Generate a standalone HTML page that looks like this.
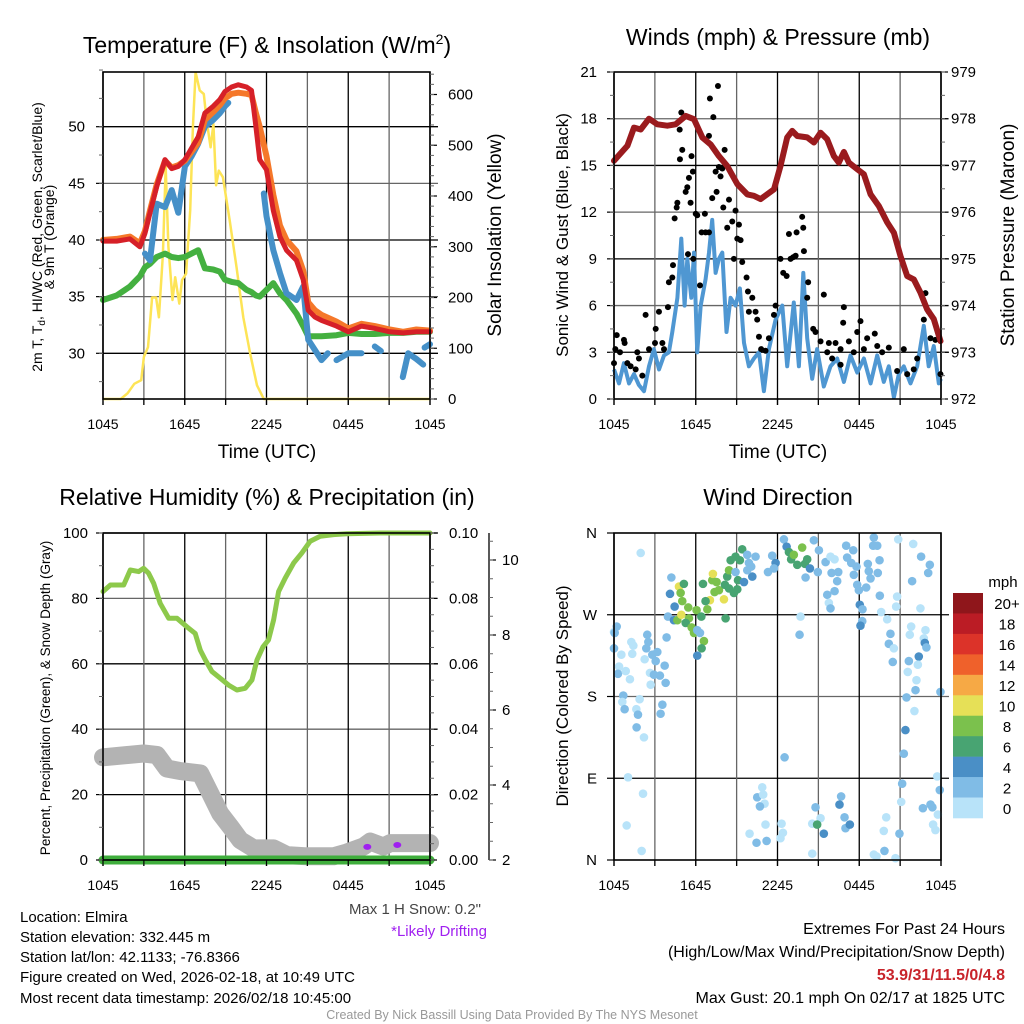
<!DOCTYPE html>
<html><head><meta charset="utf-8"><style>
html,body{margin:0;padding:0;background:#fff;}
svg{display:block;font-family:"Liberation Sans",Arial,sans-serif;}
</style></head><body>
<svg id="fig" width="1024" height="1024" viewBox="0 0 1024 1024" xmlns="http://www.w3.org/2000/svg">
<rect width="1024" height="1024" fill="#fff"/>
<g id="p1"></g>
<g id="p2"></g>
<g id="p3"></g>
<g id="p4"></g>
<g id="txt">
<text x="267" y="53" font-size="23" text-anchor="middle">Temperature (F) &amp; Insolation (W/m<tspan font-size="14" dy="-9">2</tspan><tspan dy="9">)</tspan></text>
<text x="778" y="45" font-size="23" text-anchor="middle">Winds (mph) &amp; Pressure (mb)</text>
<text x="267" y="505" font-size="23" text-anchor="middle">Relative Humidity (%) &amp; Precipitation (in)</text>
<text x="778" y="505" font-size="23" text-anchor="middle">Wind Direction</text>
<text x="267" y="458" font-size="19" text-anchor="middle">Time (UTC)</text>
<text x="778" y="458" font-size="19" text-anchor="middle">Time (UTC)</text>
<text transform="translate(42,237) rotate(-90)" font-size="14" text-anchor="middle">2m T, T<tspan font-size="10" dy="3">d</tspan><tspan dy="-3">, HI/WC (Red, Green, Scarlet/Blue)</tspan></text>
<text transform="translate(54,237) rotate(-90)" font-size="14" text-anchor="middle">&amp; 9m T (Orange)</text>
<text transform="translate(501,235) rotate(-90)" font-size="19" text-anchor="middle">Solar Insolation (Yellow)</text>
<text transform="translate(568,235) rotate(-90)" font-size="17" text-anchor="middle">Sonic Wind &amp; Gust (Blue, Black)</text>
<text transform="translate(1014,235) rotate(-90)" font-size="19" text-anchor="middle">Station Pressure (Maroon)</text>
<text transform="translate(50,698) rotate(-90)" font-size="13.5" text-anchor="middle">Percent, Precipitation (Green), &amp; Snow Depth (Gray)</text>
<text transform="translate(568,696) rotate(-90)" font-size="17" text-anchor="middle">Direction (Colored By Speed)</text>
<text x="481" y="914" font-size="15" fill="#444" text-anchor="end">Max 1 H Snow: 0.2"</text>
<text x="487" y="936" font-size="15" fill="#a020f0" text-anchor="end">*Likely Drifting</text>
<text x="20" y="922" font-size="15">Location: Elmira</text>
<text x="20" y="942" font-size="15">Station elevation: 332.445 m</text>
<text x="20" y="962" font-size="15">Station lat/lon: 42.1133; -76.8366</text>
<text x="20" y="982" font-size="15">Figure created on Wed, 2026-02-18, at 10:49 UTC</text>
<text x="20" y="1003" font-size="15">Most recent data timestamp: 2026/02/18 10:45:00</text>
<text x="1005" y="934" font-size="16" text-anchor="end">Extremes For Past 24 Hours</text>
<text x="1005" y="957" font-size="16" text-anchor="end">(High/Low/Max Wind/Precipitation/Snow Depth)</text>
<text x="1005" y="980" font-size="16" font-weight="bold" fill="#c8242b" text-anchor="end">53.9/31/11.5/0/4.8</text>
<text x="1005" y="1003" font-size="16" text-anchor="end">Max Gust: 20.1 mph On 02/17 at 1825 UTC</text>
<text x="512" y="1019" font-size="12.5" fill="#999" text-anchor="middle">Created By Nick Bassill Using Data Provided By The NYS Mesonet</text>
<text x="1003" y="587" font-size="15" text-anchor="middle">mph</text>
</g>
</svg>
<script>
// ---------- data (time in hours since 1045 UTC) ----------
const xTickLabels = ["1045","1645","2245","0445","1045"];
// Panel 1
const tT  = [0,1,1.98,2.71,3.08,3.45,3.94,4.55,5.04,5.53,6.01,6.5,6.99,7.48,8.09,8.58,8.95,9.44,9.93,10.54,10.9,11.22,11.5,12.0,12.5,12.98,13.47,14.2,14.69,15.06,15.55,16.04,17.14,18.0,18.97,19.95,21.05,22.03,23.0,24];
const temp2m = [39.9,39.9,40.1,39.4,40.6,42.4,44.7,47.1,46.3,46.5,47.1,48.1,49.1,51.2,51.8,52.4,53.1,53.5,53.7,53.5,53.2,50,47.1,46.2,42.6,40.3,39.1,38.2,36.5,33.8,33.2,32.9,32.4,31.9,32.4,32.2,31.9,31.8,31.9,31.9];
const temp9m = [40.0,40.1,40.3,39.7,40.8,42.6,44.9,47.0,46.4,46.6,47.0,47.8,48.6,50.6,51.3,51.9,52.5,52.9,53.0,52.9,52.8,51.2,50.0,47.4,44.0,41.3,40.0,39.0,37.3,34.5,33.8,33.4,32.8,32.2,32.6,32.4,32.1,31.9,32.1,32.0];
const dewp = [34.7,35.1,35.9,36.8,37.6,37.9,38.5,38.8,38.5,38.4,38.5,38.8,39.1,37.5,37.4,37.2,36.5,36.3,36.2,35.6,35.4,35.1,35.0,35.6,36.2,35.3,34.7,33.5,32.4,31.5,31.5,31.5,31.6,31.8,31.7,31.7,31.8,31.8,31.9,31.9];
const tWC = [3.08,3.45,3.94,4.55,5.04,5.53,6.01,6.5,6.99,7.48,8.09,8.58,8.95,9.2,null,11.8,12.0,12.5,12.98,13.47,14.2,14.69,15.06,16.04,16.5,null,17.14,18.0,18.97,null,19.95,20.4,null,22.0,22.4,23.0,23.5,null,23.6,24];
const windChill = [38.8,38.2,43.2,42.9,44.4,42.4,46.5,47.4,48.5,50,50.6,51.2,51.8,52.1,null,44.1,42.1,39.1,37.1,35.3,34.7,35.9,31.2,29.4,30.0,null,29.4,30,30,null,30.6,30.2,null,27.9,30.0,29.5,29.0,null,30.5,30.8];
const tSolar = [0,1.3,1.8,2.3,2.8,3.0,3.3,3.6,3.9,4.1,4.4,4.6,4.8,5.1,5.3,5.6,5.8,6.1,6.4,6.6,6.8,7.1,7.4,7.6,7.9,8.1,8.3,8.5,8.8,9.3,9.8,10.3,10.8,11.3,11.8,24];
const solar = [0,0,11,30,37,83,102,200,200,161,285,457,300,195,240,188,234,247,372,536,644,608,601,549,496,542,421,450,437,352,260,161,89,27,0,0];
// Panel 2
const tP = [0,0.98,1.47,1.96,2.57,3.18,3.91,4.52,5.26,5.87,6.48,7.09,7.7,8.31,9.05,9.78,10.27,10.76,11.74,12.22,12.71,13.08,13.45,14.18,14.67,15.16,15.65,16.14,16.5,16.87,17.24,17.85,18.34,18.83,19.44,20.05,20.54,21.03,21.52,22.0,22.49,22.98,23.47,23.96];
const pressure = [977.1,977.42,977.81,977.77,978.0,977.88,977.85,977.88,978.06,977.99,977.6,977.45,977.2,976.99,976.6,976.38,976.35,976.28,976.49,976.99,977.6,977.74,977.63,977.6,977.49,977.7,977.56,977.2,977.06,977.29,977.06,976.92,976.81,976.38,976.13,975.78,975.56,975.06,974.63,974.56,974.28,973.92,973.71,973.24];
const tWind = [0,0.37,0.73,1.1,1.47,1.83,2.2,2.57,2.93,3.3,3.67,4.03,4.28,4.65,4.94,5.18,5.38,5.67,5.87,6.11,6.36,6.72,6.97,7.21,7.46,7.7,7.95,8.26,8.56,8.92,9.24,9.54,9.9,10.27,10.64,11.0,11.37,11.86,12.35,12.71,13.2,13.57,13.89,14.18,14.55,14.91,15.4,15.89,16.38,16.87,17.36,17.85,18.34,18.83,19.32,19.8,20.17,20.54,20.9,21.27,21.76,22.25,22.74,23.1,23.47,23.84,24];
const sonic = [1.9,1.0,2.3,1.0,1.6,0.9,0.5,2.1,3.2,1.9,2.8,3.0,4.3,6.5,10.3,6.0,9.0,6.5,9.4,3.0,6.0,7.7,9.4,11.5,8.1,9.0,9.4,4.3,6.5,6.0,7.1,3.6,2.1,2.6,3.0,0.5,3.2,5.1,6.0,2.1,6.2,2.1,8.1,3.9,1.3,3.2,0.8,2.1,2.6,1.1,2.8,1.7,2.6,1.0,2.8,1.1,2.1,0.1,1.6,2.1,1.0,2.1,4.7,2.1,3.4,1.0,1.3];
const tGust = [0,0.2,0.1,0.44,0.78,0.73,1.22,0.98,1.71,1.83,1.59,2.08,2.32,2.57,3.06,3.01,3.3,3.55,3.67,3.96,4.03,4.28,4.33,4.45,4.6,4.65,4.84,5.01,4.94,4.82,5.69,5.5,5.79,5.62,5.38,5.26,6.0,6.11,5.43,5.82,6.31,6.43,6.67,6.97,6.72,6.97,7.04,7.29,7.63,7.46,7.21,7.53,7.82,7.95,8.12,7.7,8.02,8.31,8.44,8.68,9.05,8.92,9.29,9.17,8.8,9.41,9.73,9.83,10.15,9.9,10.39,10.51,10.64,10.8,11.12,11.37,11.86,11.74,12.22,12.42,12.67,12.84,12.96,13.15,13.33,13.4,13.89,13.81,13.94,14.25,14.18,14.62,14.79,15.4,15.16,15.65,16.01,16.26,16.63,16.87,16.82,17.24,17.6,17.85,18.09,18.34,18.58,19.14,19.32,19.68,20.17,20.78,21.27,21.52,22.25,22.74,22.86,23.1,23.23,23.59,23.96,15.77,16.63,22.0];
const gust = [2.3,4.1,3.2,3.0,3.6,3.8,2.1,2.3,3.0,2.6,1.9,1.5,5.4,3.2,4.5,3.6,5.6,3.6,3.2,5.9,7.5,7.8,8.6,11.6,12.3,12.6,15.4,16.0,18.4,17.3,15.6,14.2,14.6,12.6,13.6,13.3,11.9,11.8,9.3,9.0,7.3,10.7,11.9,10.7,10.7,16.9,19.3,18.1,20.1,14.6,12.9,13.3,14.3,14.8,16.0,14.9,12.3,11.0,12.8,11.4,10.3,12.1,10.2,11.2,9.0,8.8,7.8,6.9,6.5,5.6,5.6,5.1,4.0,3.2,3.1,3.9,6.0,5.4,9.0,8.1,7.9,10.6,9.0,9.1,9.2,10.7,11.0,11.7,9.5,7.5,6.5,4.5,4.3,6.7,3.7,3.0,2.6,3.6,3.2,5.9,4.9,3.7,3.0,4.3,5.0,3.2,3.9,4.2,3.4,3.0,3.3,1.8,3.2,1.6,2.6,5.1,6.8,5.6,3.9,3.8,1.6,3.6,2.2,1.9];
// Panel 3
const tRH = [0,0.54,1.52,2.0,2.62,2.98,3.35,3.72,4.2,4.82,5.43,6.16,6.77,7.14,7.51,8.0,8.6,9.22,9.83,10.44,10.93,11.3,11.74,12.15,12.52,12.89,13.37,13.99,14.6,15.21,15.94,16.92,17.9,20.34,24];
const rh = [82.1,84.1,84.1,88.7,88.2,89.2,87.7,84.6,78.5,73.9,73.9,71.3,69.3,64.2,61.2,57.6,55.6,53.5,52.0,52.5,55.0,61.2,65.2,67.3,73.4,82.1,86.2,90.8,93.9,97.5,99.0,99.5,99.8,100,100];
const tSnow = [0,2.98,3.96,4.69,5.67,7.14,7.87,8.6,9.34,10.07,11.05,12.52,13.5,14.96,16.92,17.9,19.12,19.61,20.59,21.08,24];
const snowDepth = [4.74,4.84,4.8,4.44,4.37,4.31,3.78,3.24,2.89,2.53,2.31,2.31,2.13,2.1,2.1,2.2,2.36,2.49,2.36,2.45,2.45];
const tPrecip = [0,24];
const precip = [0,0];
const tDrift = [19.4,21.6];
const driftDepth = [2.35,2.4];
// Panel 4
const tDir = [1.96,0,0.2,0.05,0,0.54,0.37,0.29,0.86,1.17,0.68,0.61,0.78,1.27,1.42,1.34,1.88,1.64,1.76,1.66,2.2,2.44,2.52,2.37,2.25,2.81,3.18,3.06,2.64,2.93,2.69,3.37,3.72,3.79,3.86,3.55,3.42,1.03,2.13,0.93,2.03,4.21,4.11,4.45,4.77,4.89,5.13,5.01,5.45,3.96,4.4,4.65,4.94,5.5,5.26,5.7,5.87,6.11,6.31,6.06,6.41,6.6,6.43,6.11,6.53,7.21,7.26,7.04,6.72,6.85,7.38,7.7,7.53,8.07,8.14,8.31,8.44,8.56,8.19,8.44,8.8,9.05,9.1,8.92,9.24,9.41,8.92,9.78,9.9,10.07,10.15,9.54,10.39,9.78,11.61,11.86,11.74,11.3,12.47,12.67,12.84,13.0,13.2,13.45,13.81,14.18,14.01,14.38,14.67,15.04,14.96,14.06,15.53,15.89,16.19,15.97,16.46,16.38,15.65,16.19,15.77,15.89,13.69,13.62,17.04,17.56,17.11,17.41,17.8,17.6,17.85,17.97,18.04,18.24,18.22,18.09,18.51,19.07,19.02,19.32,18.63,18.7,18.83,19.36,19.49,19.51,19.61,20.05,20.29,20.17,20.54,20.46,20.86,21.96,22.54,23.18,23.06,21.88,20.78,20.71,22.49,21.81,21.71,22.86,22.74,22.81,22.93,22.37,21.64,21.56,22.3,22.2,22.13,21.47,22.05,21.39,21.27,23.96,21.15,21.08,23.72,23.91,23.23,23.37,22.67,23.77,23.42,23.59,19.98,19.8,20.95,19.85,20.66,19.07,19.27,10.88,10.51,10.95,11.05,10.71,11.12,9.95,10.46,11.2,12.22,12.4,12.3,12.52,14.55,14.79,15.16,14.91,15.4,14.55,16.67,16.55,16.92,16.99,17.31];
const dirDeg = [338,251,257,250,233,226,213,205,208,199,181,174,166,240,236,227,177,166,160,146,135,248,240,233,221,226,229,219,206,204,193,203,214,195,245,171,161,91,73,38,10,311,293,279,301,294,304,285,278,268,264,264,270,266,261,256,250,253,250,275,268,241,233,225,304,308,315,286,285,276,295,297,306,287,303,312,319,330,266,299,294,298,308,317,330,342,334,336,327,323,312,306,334,319,335,327,321,317,353,345,339,331,336,325,344,331,326,321,352,341,317,311,328,334,331,316,317,307,292,296,283,277,268,248,346,341,333,327,323,314,303,297,281,276,263,258,300,355,346,346,326,318,310,316,330,291,273,265,249,238,233,218,353,348,334,325,316,307,290,279,277,257,248,253,244,239,234,224,219,207,215,198,187,179,164,143,117,185,84,64,92,77,61,58,57,50,39,33,47,32,29,10,2,6,4,80,69,72,62,59,39,29,19,21,24,30,40,113,40,58,46,39,29,7,70,61,47,35,39];
const dirSpeed = [1,1,3,3,3,1,1,3,1,1,3,1,3,1,1,1,1,1,3,3,1,3,3,3,1,3,3,3,1,3,1,3,3,3,3,3,3,1,1,1,1,3,5,5,11,9,7,9,9,3,5,9,11,9,7,9,9,3,3,9,7,9,7,5,7,9,11,11,7,9,9,9,9,11,7,7,9,7,7,7,7,7,7,3,7,7,7,3,3,3,5,5,3,3,3,5,3,3,3,5,7,7,9,7,9,7,7,5,3,3,3,3,3,1,1,3,3,3,3,3,1,3,1,3,3,3,3,3,3,3,3,3,5,3,3,5,3,3,3,3,3,3,3,3,3,3,1,1,3,3,1,3,1,1,3,3,3,3,1,1,1,1,1,1,1,5,3,5,3,1,1,1,3,3,1,5,3,3,3,1,1,3,3,3,3,1,1,1,1,1,3,3,1,1,1,1,3,1,1,3,1,1,3,3,1,1,1,3,1,3,1,7,5,1,3,5,3,3,5,3,3,3,3,5,5,1];
const cbLabels = ["20+","18","16","14","12","10","8","6","4","2","0"];
const cbColors = ["#8f161b","#bb1c25","#dc3329","#ef612b","#f6a945","#e6e057","#7bc14d","#48a472","#4a8fc6","#80bce6","#b8e3f9"];

// ---------- helpers ----------
const NS="http://www.w3.org/2000/svg";
function mk(parent,tag,attrs){const e=document.createElementNS(NS,tag);for(const k in attrs)e.setAttribute(k,attrs[k]);parent.appendChild(e);return e;}
function lin(d0,d1,r0,r1){return v=>r0+(v-d0)/(d1-d0)*(r1-r0);}
function pathD(xs,ys,fx,fy){let d="",pen=false;for(let i=0;i<xs.length;i++){if(ys[i]===null||xs[i]===null){pen=false;continue;}d+=(pen?"L":"M")+fx(xs[i]).toFixed(1)+","+fy(ys[i]).toFixed(1);pen=true;}return d;}
function speedColor(s){const i=Math.min(10,Math.floor(s/2));return cbColors[10-i];}

function frame(g,L,R,T,B,hLines,vLines,name){
  const grid=mk(g,"g",{});
  
  
  hLines.forEach((y,i)=>{mk(grid,"line",{x1:L,x2:R+8,y1:y,y2:y,stroke:(i%2?"#666":"#000"),"stroke-width":1.3});});
  vLines.forEach((x,i)=>{mk(grid,"line",{x1:x,x2:x,y1:T,y2:B+6,stroke:(i%2?"#666":"#000"),"stroke-width":1.3});});
}
function border(g,L,R,T,B,name){
  const r=mk(g,"rect",{x:L,y:T,width:R-L,height:B-T,fill:"none",stroke:"#000","stroke-width":1.6});
  
  
}
function yTicks(g,x,vals,fy,side,labels,lx,minorVals,name){
  vals.forEach((v,i)=>{
    const y=fy(v);
    mk(g,"line",{x1:x,x2:x+(side<0?-7:7),y1:y,y2:y,stroke:"#000","stroke-width":1.2});
    const t=mk(g,"text",{x:lx,y:y+5,"font-size":15,"text-anchor":side<0?"end":"start"});
    
    
    t.textContent=labels[i];
  });
  (minorVals||[]).forEach(v=>{const y=fy(v);mk(g,"line",{x1:x,x2:x+(side<0?-4:4),y1:y,y2:y,stroke:"#666","stroke-width":1});});
}
function xTicks(g,fx,B,name){
  for(let h=0;h<=24;h+=3){mk(g,"line",{x1:fx(h),x2:fx(h),y1:B,y2:B+6,stroke:"#000","stroke-width":1.2});}
  xTickLabels.forEach((s,i)=>{const t=mk(g,"text",{x:fx(i*6),y:B+30,"font-size":14,"text-anchor":"middle"});
    
    
    t.textContent=s;});
}
function range(a,b,s){const r=[];for(let v=a;v<=b+1e-9;v+=s)r.push(+v.toFixed(4));return r;}

// ---------- Panel 1 ----------
(function(){
  const g=document.getElementById("p1");const L=103,R=430,T=72,B=399;
  const fx=lin(0,24,L,R), fy=lin(30,50,353.3,126.7), fs=lin(0,600,399,94.5);
  frame(g,L,R,T,B,[30,35,40,45,50].map(fy),range(0,24,3).map(fx),"temp");
  const sol=mk(g,"path",{d:pathD(tSolar,solar,fx,fs),fill:"none",stroke:"#fde456","stroke-width":2.5,"stroke-linejoin":"round"});
  
  
  const dp=mk(g,"path",{d:pathD(tT,dewp,fx,fy),fill:"none",stroke:"#44b040","stroke-width":6,"stroke-linejoin":"round","stroke-linecap":"round"});
  
  
  const wc=mk(g,"path",{d:pathD(tWC,windChill,fx,fy),fill:"none",stroke:"#4590c8","stroke-width":6,"stroke-linejoin":"round","stroke-linecap":"round"});
  
  
  const t9=mk(g,"path",{d:pathD(tT,temp9m,fx,fy),fill:"none",stroke:"#f5782a","stroke-width":6,"stroke-linejoin":"round","stroke-linecap":"round"});
  
  
  const t2=mk(g,"path",{d:pathD(tT,temp2m,fx,fy),fill:"none",stroke:"#d62028","stroke-width":5,"stroke-linejoin":"round","stroke-linecap":"round"});
  
  
  mk(g,"rect",{x:L,y:T-30,width:R-L,height:30,fill:"#fff"});
  border(g,L,R,T,B,"temp");
  yTicks(g,L,[30,35,40,45,50],fy,-1,["30","35","40","45","50"],85,range(27.5,55,2.5),"temp-left");
  yTicks(g,R,[0,100,200,300,400,500,600],fs,1,["0","100","200","300","400","500","600"],448,range(0,640,20),"solar-right");
  xTicks(g,fx,B,"temp");
})();

// ---------- Panel 2 ----------
(function(){
  const g=document.getElementById("p2");const L=614,R=941,T=72,B=399;
  const fx=lin(0,24,L,R), fy=lin(0,21,B,T), fp=lin(972,979,B,T);
  frame(g,L,R,T,B,range(3,18,3).map(fy),range(0,24,3).map(fx),"wind");
  const sw=mk(g,"path",{d:pathD(tWind,sonic,fx,fy),fill:"none",stroke:"#4f97d2","stroke-width":4,"stroke-linejoin":"round"});
  
  
  const gg=mk(g,"g",{});
  
  
  tGust.forEach((t,i)=>{const c=mk(gg,"circle",{cx:fx(t),cy:fy(gust[i]),r:3,fill:"#000"});
    
    });
  const pr=mk(g,"path",{d:pathD(tP,pressure,fx,fp),fill:"none",stroke:"#9a1b1e","stroke-width":6,"stroke-linejoin":"round","stroke-linecap":"round"});
  
  
  border(g,L,R,T,B,"wind");
  yTicks(g,L,range(0,21,3),fy,-1,range(0,21,3).map(String),597,range(0,21,1.5),"wind-left");
  yTicks(g,R,range(972,979,1),fp,1,range(972,979,1).map(String),951,range(972,979,0.5),"pressure-right");
  xTicks(g,fx,B,"wind");
})();

// ---------- Panel 3 ----------
(function(){
  const g=document.getElementById("p3");const L=103,R=430,T=533,B=860;
  const fx=lin(0,24,L,R), fy=lin(0,100,B,T), fsn=lin(2,10,B,560);
  frame(g,L,R,T,B,range(20,100,20).map(fy),range(0,24,3).map(fx),"rh");
  const sn=mk(g,"path",{d:pathD(tSnow,snowDepth,fx,fsn),fill:"none",stroke:"#b3b3b3","stroke-width":18,"stroke-linejoin":"round","stroke-linecap":"round"});
  
  
  tDrift.forEach((t,i)=>{const e=mk(g,"ellipse",{cx:fx(t),cy:fsn(driftDepth[i]),rx:4,ry:3,fill:"#a020f0"});
    
    });
  const fpr=lin(0,0.1,B,T);
  const pp=mk(g,"path",{d:pathD(tPrecip,precip,fx,fpr),fill:"none",stroke:"#3fae3c","stroke-width":9,"stroke-linecap":"round"});
  
  
  const rl=mk(g,"path",{d:pathD(tRH,rh,fx,fy),fill:"none",stroke:"#8dc94b","stroke-width":5,"stroke-linejoin":"round","stroke-linecap":"round"});
  
  
  border(g,L,R,T,B,"rh");
  yTicks(g,L,range(0,100,20),fy,-1,range(0,100,20).map(String),88,range(0,100,10),"rh-left");
  yTicks(g,R,range(0,0.1,0.02),fpr,1,["0.00","0.02","0.04","0.06","0.08","0.10"],449,range(0,0.1,0.005),"precip-right");
  mk(g,"line",{x1:489,x2:489,y1:533,y2:860,stroke:"#000","stroke-width":1.3});
  yTicks(g,489,range(2,10,2),fsn,1,range(2,10,2).map(String),502,range(2,10.5,0.5),"snow-right");
  xTicks(g,fx,B,"rh");
})();

// ---------- Panel 4 ----------
(function(){
  const g=document.getElementById("p4");const L=614,R=941,T=533,B=860;
  const fx=lin(0,24,L,R), fy=lin(0,360,B,T);
  frame(g,L,R,T,B,[90,180,270].map(fy),range(0,24,3).map(fx),"dir");
  const dg=mk(g,"g",{});
  
  
  tDir.forEach((t,i)=>{const c=mk(dg,"circle",{cx:fx(t),cy:fy(dirDeg[i]),r:4.3,fill:speedColor(dirSpeed[i])});
    
    });
  border(g,L,R,T,B,"dir");
  yTicks(g,L,[0,90,180,270,360],fy,-1,["N","E","S","W","N"],597,[],"dir-left");
  xTicks(g,fx,B,"dir");
  const cb=mk(g,"g",{});
  
  
  const h=(818-593)/cbColors.length;
  cbColors.forEach((c,i)=>{const r=mk(cb,"rect",{x:953,y:593+i*h,width:30,height:h+0.3,fill:c});
    
    
    const t=mk(cb,"text",{x:1007,y:593+i*h+h/2+6,"font-size":15,"text-anchor":"middle"});
    
    
    t.textContent=cbLabels[i];});
})();
</script>
</body></html>
